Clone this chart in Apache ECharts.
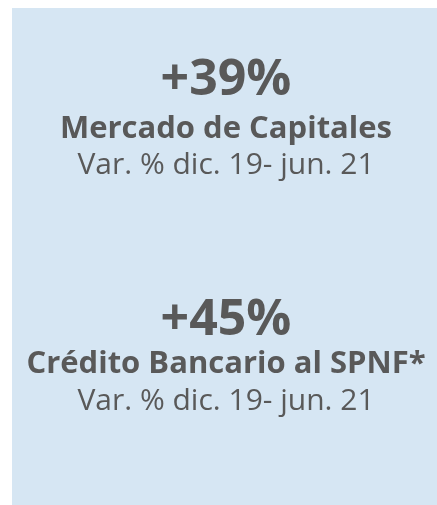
<!DOCTYPE html>
<html>
<head>
<meta charset="utf-8">
<script src="https://cdn.jsdelivr.net/npm/echarts@6/dist/echarts.min.js"></script>
<style>
    html, body { margin: 0; padding: 0; background: #fff; }
    #chart { width: 437px; height: 505px; }
</style>
</head>
<body>
<div id="chart"></div>
<script>
    // valores de la tarjeta
    var variaciones = [39, 45];
    var rubros = ['Mercado de Capitales', 'Crédito Bancario al SPNF*'];
    var periodos = ['Var. % dic. 19- jun. 21', 'Var. % dic. 19- jun. 21'];

    var gris = '#595959';
    var fuente = '"Open Sans", "DejaVu Sans", sans-serif';
    var cx = 226;
    // centro vertical de cada linea: [porcentaje, rubro, periodo]
    var lineasY = [[81, 129, 165], [321, 364, 401]];

    var chart = echarts.init(document.getElementById('chart'));

    var elementos = [{
        type: 'rect',
        shape: { x: 12, y: 8, width: 425, height: 497 },
        style: { fill: '#d6e6f3' },
        silent: true
    }];

    variaciones.forEach(function (v, i) {
        var ys = lineasY[i];
        elementos.push({
            type: 'text',
            x: cx, y: ys[0],
            style: {
                text: '+' + v + '%',
                fill: gris,
                font: 'bold 50px ' + fuente,
                align: 'center',
                verticalAlign: 'middle'
            }
        });
        elementos.push({
            type: 'text',
            x: cx, y: ys[1],
            style: {
                text: rubros[i],
                fill: gris,
                font: 'bold 31px ' + fuente,
                align: 'center',
                verticalAlign: 'middle'
            }
        });
        elementos.push({
            type: 'text',
            x: cx, y: ys[2],
            style: {
                text: periodos[i],
                fill: gris,
                font: '400 30px ' + fuente,
                align: 'center',
                verticalAlign: 'middle'
            }
        });
    });

    chart.setOption({
        animation: false,
        graphic: elementos
    });
</script>
</body>
</html>
